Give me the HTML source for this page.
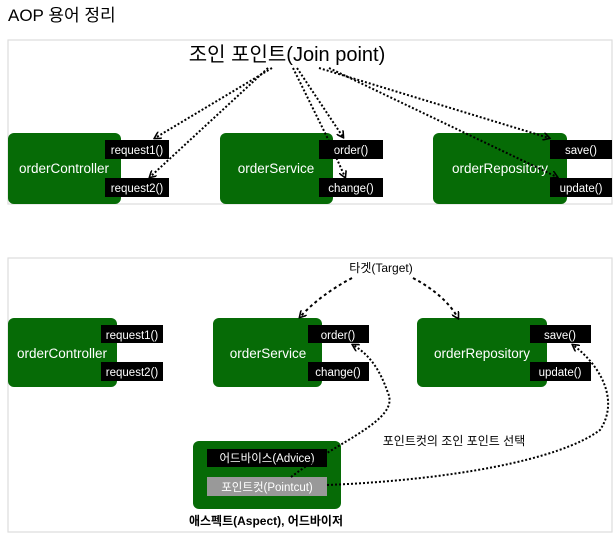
<!DOCTYPE html>
<html><head><meta charset="utf-8"><style>
html,body{margin:0;padding:0;background:#fff;width:615px;height:536px;overflow:hidden}
svg{display:block}
text{font-family:"Liberation Sans","Noto Sans CJK KR",sans-serif}
</style></head><body>
<svg width="615" height="536" viewBox="0 0 615 536" xmlns="http://www.w3.org/2000/svg">
<defs>
<marker id="a" markerWidth="8" markerHeight="8" refX="6" refY="4" orient="auto" markerUnits="userSpaceOnUse">
<path d="M0,0 L7,4 L0,8" fill="none" stroke="#000" stroke-width="1.6"/></marker>
</defs>
<text x="8" y="21" font-size="17" fill="#000">AOP 용어 정리</text>
<rect x="8" y="40" width="604" height="164" fill="#fff" stroke="#ddd" stroke-width="1.2"/>
<rect x="8" y="258" width="604" height="274" fill="#fff" stroke="#ddd" stroke-width="1.2"/>
<!-- top panel -->
<text x="287" y="61" font-size="20" text-anchor="middle">조인 포인트(Join point)</text>
<g fill="#066b06">
<rect x="8" y="133" width="113" height="71" rx="6"/>
<rect x="220" y="133" width="113" height="71" rx="6"/>
<rect x="433" y="133" width="134" height="71" rx="6"/>
</g>
<g fill="#000">
<rect x="105" y="140" width="64" height="19"/><rect x="105" y="178" width="64" height="19"/>
<rect x="319" y="140" width="64" height="19"/><rect x="319" y="178" width="64" height="19"/>
<rect x="550" y="140" width="62" height="19"/><rect x="550" y="178" width="62" height="19"/>
</g>
<g fill="#fff" font-size="13.5" text-anchor="middle">
<text x="64" y="173">orderController</text>
<text x="276" y="173">orderService</text>
<text x="500" y="173">orderRepository</text>
</g>
<g fill="#fff" font-size="11.5" text-anchor="middle">
<text x="137" y="154">request1()</text><text x="137" y="192">request2()</text>
<text x="351" y="154">order()</text><text x="351" y="192">change()</text>
<text x="581" y="154">save()</text><text x="581" y="192">update()</text>
</g>
<g fill="none" stroke="#000" stroke-width="2" stroke-dasharray="2 2" marker-end="url(#a)">
<line x1="272" y1="68" x2="155" y2="138"/>
<line x1="268" y1="68" x2="150" y2="177"/>
<line x1="297" y1="68" x2="343" y2="137"/>
<polyline points="293,68 327,137 345,177"/>
<line x1="319" y1="68" x2="549" y2="138"/>
<line x1="329" y1="68" x2="557" y2="177"/>
</g>
<!-- bottom panel -->
<text x="381" y="272" font-size="12" text-anchor="middle">타겟(Target)</text>
<g fill="#066b06">
<rect x="8" y="318" width="109" height="69" rx="6"/>
<rect x="213" y="318" width="109" height="69" rx="6"/>
<rect x="417" y="318" width="130" height="69" rx="6"/>
<rect x="193" y="441" width="148" height="68" rx="6"/>
</g>
<g fill="#000">
<rect x="101" y="325" width="62" height="18"/><rect x="101" y="362" width="62" height="19"/>
<rect x="308" y="325" width="61" height="18"/><rect x="308" y="362" width="61" height="19"/>
<rect x="530" y="325" width="61" height="18"/><rect x="530" y="362" width="61" height="19"/>
<rect x="207" y="449" width="120" height="18"/>
</g>
<rect x="207" y="477" width="120" height="19" fill="#999"/>
<g fill="#fff" font-size="13.5" text-anchor="middle">
<text x="62" y="358">orderController</text>
<text x="268" y="358">orderService</text>
<text x="482" y="358">orderRepository</text>
</g>
<g fill="#fff" font-size="11.5" text-anchor="middle">
<text x="132" y="339">request1()</text><text x="132" y="376">request2()</text>
<text x="338" y="339">order()</text><text x="338" y="376">change()</text>
<text x="560" y="339">save()</text><text x="560" y="376">update()</text>
<text x="267" y="462">어드바이스(Advice)</text>
<text x="267" y="491">포인트컷(Pointcut)</text>
</g>
<text x="454" y="445" font-size="12" text-anchor="middle">포인트컷의 조인 포인트 선택</text>
<text x="266" y="525" font-size="12" font-weight="bold" text-anchor="middle">애스펙트(Aspect), 어드바이저</text>
<g fill="none" stroke="#000" stroke-width="2" stroke-dasharray="3 3" marker-end="url(#a)">
<path d="M352,278 Q320,295 300,317"/>
<path d="M413,278 Q445,295 458,318"/>
</g>
<g fill="none" stroke="#000" stroke-width="2" stroke-dasharray="2 2" marker-end="url(#a)">
<path d="M291,477 C340,440 400,420 388,393 C380,370 370,355 353,345"/>
<path d="M327,485 C450,480 560,460 600,430 C620,400 600,365 573,345"/>
</g>
</svg>
</body></html>
